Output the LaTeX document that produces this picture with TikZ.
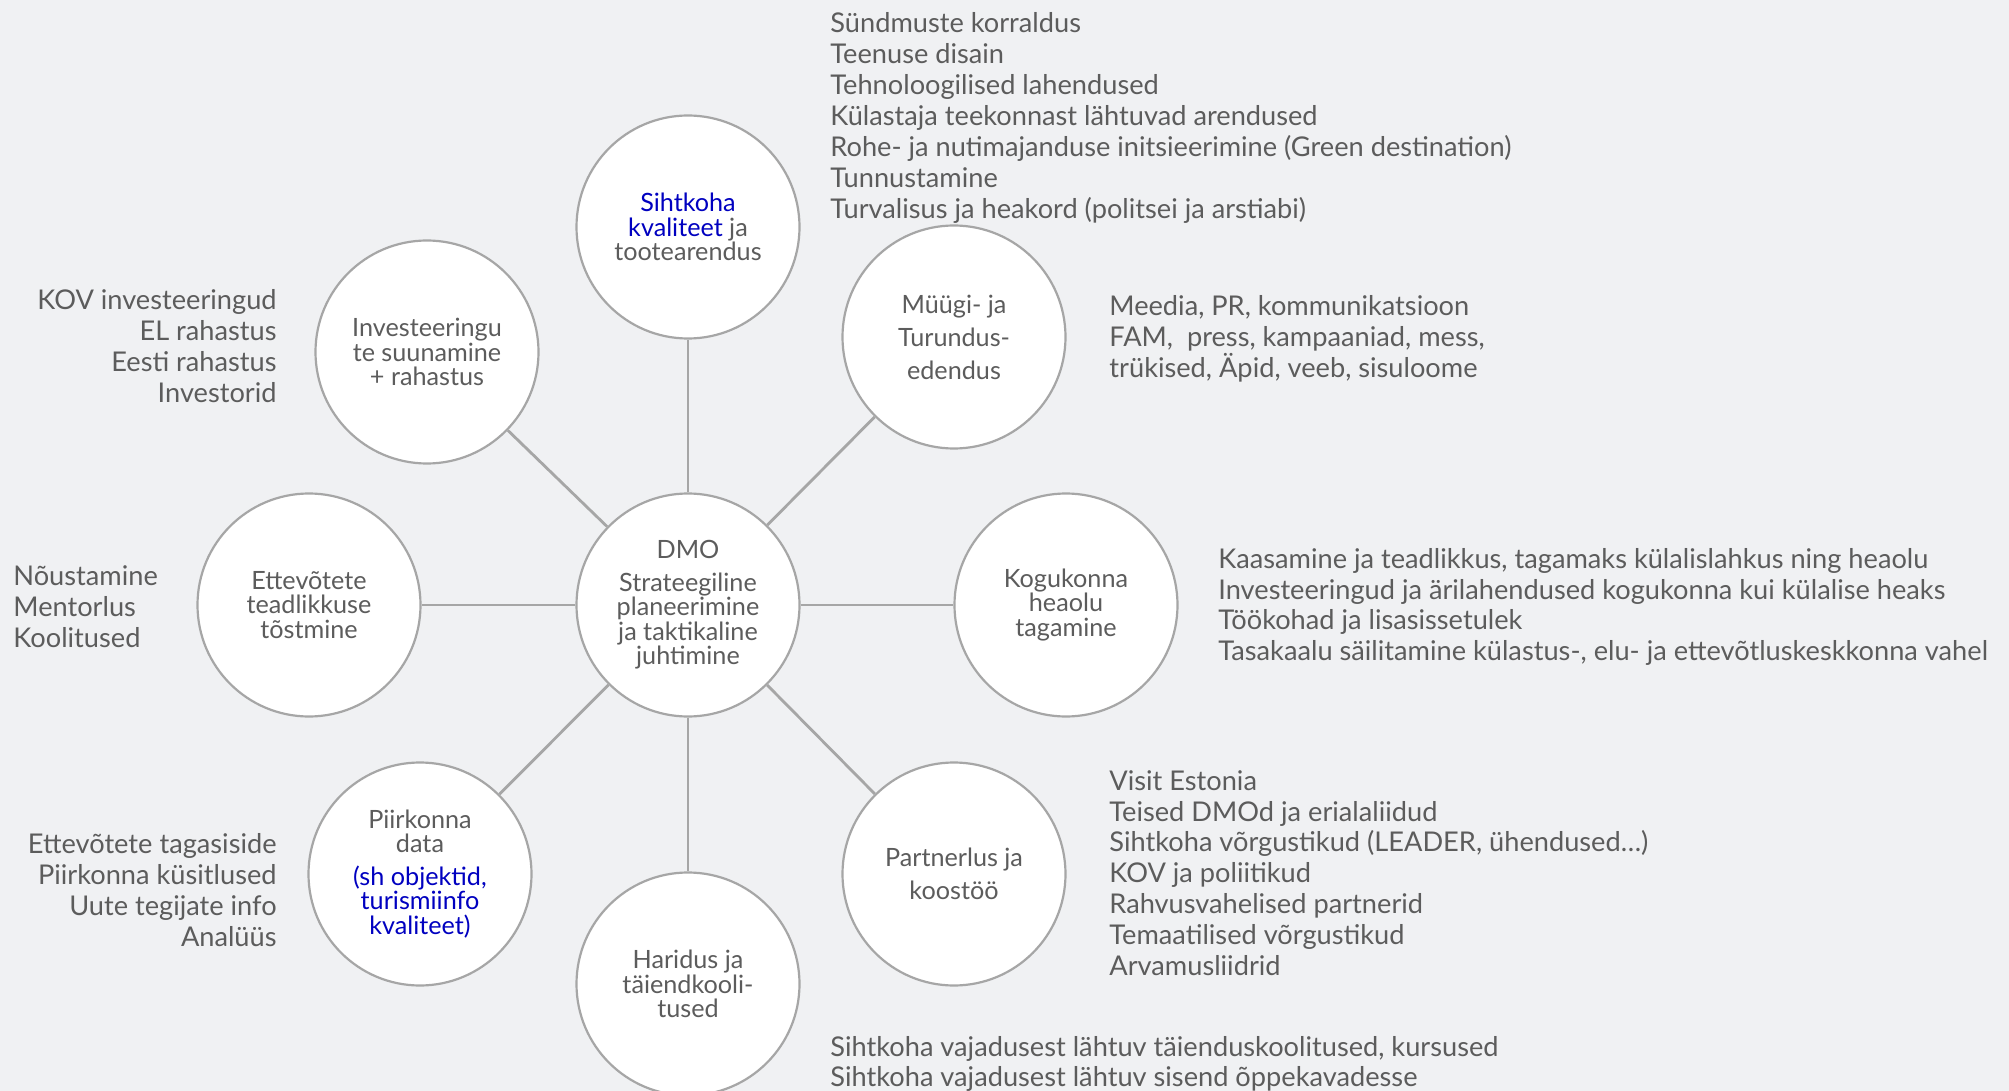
\documentclass[tikz,border=0pt]{standalone}
\usepackage{fontspec}
\setmainfont{Lato}
\definecolor{bg}{RGB}{240,241,243}
\definecolor{txt}{RGB}{92,92,92}
\definecolor{circ}{RGB}{166,166,166}
\definecolor{blu}{RGB}{0,0,192}
\begin{document}
\begin{tikzpicture}[x=0.5pt,y=-0.5pt,
  bub/.style={circle, draw=circ, line width=1.1pt, fill=white, minimum size=111.5pt,
    inner sep=0pt, align=center, text=txt, font=\fontsize{12.6}{12.25}\selectfont},
  wide/.style={font=\fontsize{12.6}{16.5}\selectfont},
  side/.style={inner sep=0pt, text=txt, font=\fontsize{13.6}{15.45}\selectfont},
  conn/.style={draw=circ, line width=1.4pt}]
\fill[bg] (0,0) rectangle (2009,1091);
\useasboundingbox (0,0) rectangle (2009,1091);

\node[bub] (dmo) at (688,605) {DMO\\[4pt]Strateegiline\\planeerimine\\ja taktikaline\\juhtimine};
\node[bub] (sih) at (688,227) {\textcolor{blu}{Sihtkoha}\\\textcolor{blu}{kvaliteet} ja\\tootearendus};
\node[bub,wide] (myy) at (954,337) {Müügi- ja\\Turundus-\\edendus};
\node[bub] (kog) at (1066,605) {Kogukonna\\heaolu\\tagamine};
\node[bub,wide] (par) at (954,874) {Partnerlus ja\\koostöö};
\node[bub] (har) at (688,984) {Haridus ja\\täiendkooli-\\tused};
\node[bub] (pii) at (420,874) {Piirkonna\\data\\[4pt]\textcolor{blu}{(sh objektid,}\\\textcolor{blu}{turismiinfo}\\\textcolor{blu}{kvaliteet)}};
\node[bub] (ett) at (309,605) {Ettevõtete\\teadlikkuse\\tõstmine};
\node[bub] (inv) at (427,352) {Investeeringu\\te suunamine\\+ rahastus};

\foreach \n in {sih,myy,kog,par,har,pii,ett,inv} \draw[conn] (dmo) -- (\n);

\node[side, anchor=west, align=left] (tq) at (830,118) {Sündmuste korraldus\\Teenuse disain\\Tehnoloogilised lahendused\\Külastaja teekonnast lähtuvad arendused\\Rohe- ja nutimajanduse initsieerimine (Green destination)\\Tunnustamine\\Turvalisus ja heakord (politsei ja arstiabi)};
\node[side, anchor=west, align=left] (tm) at (1109,339) {Meedia, PR, kommunikatsioon\\FAM,\ \ press, kampaaniad, mess,\\trükised, Äpid, veeb, sisuloome};
\node[side, anchor=west, align=left] (tk) at (1218,607) {Kaasamine ja teadlikkus, tagamaks külalislahkus ning heaolu\\Investeeringud ja ärilahendused kogukonna kui külalise heaks\\Töökohad ja lisasissetulek\\Tasakaalu säilitamine külastus-, elu- ja ettevõtluskeskkonna vahel};
\node[side, anchor=west, align=left] (tp) at (1109,873) {Visit Estonia\\Teised DMOd ja erialaliidud\\Sihtkoha võrgustikud (LEADER, ühendused…)\\KOV ja poliitikud\\Rahvusvahelised partnerid\\Temaatilised võrgustikud\\Arvamusliidrid};
\node[side, anchor=west, align=left] (th) at (830,1064) {Sihtkoha vajadusest lähtuv täienduskoolitused, kursused\\Sihtkoha vajadusest lähtuv sisend õppekavadesse};
\node[side, anchor=east, align=right] (ti) at (277,346) {KOV investeeringud\\EL rahastus\\Eesti rahastus\\Investorid};
\node[side, anchor=west, align=left] (te) at (13,607) {Nõustamine\\Mentorlus\\Koolitused};
\node[side, anchor=east, align=right] (tpi) at (277,890) {Ettevõtete tagasiside\\Piirkonna küsitlused\\Uute tegijate info\\Analüüs};
\end{tikzpicture}
\end{document}
